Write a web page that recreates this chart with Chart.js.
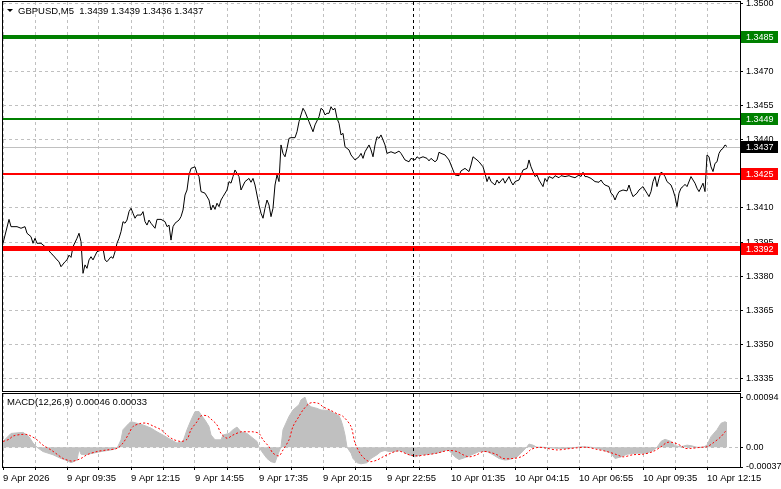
<!DOCTYPE html>
<html>
<head>
<meta charset="utf-8">
<title>GBPUSD,M5</title>
<script src="https://cdn.jsdelivr.net/npm/chart.js@4.4.1/dist/chart.umd.min.js"></script>
<style>
  html, body { margin: 0; padding: 0; background: #ffffff; }
  #wrap { position: relative; width: 781px; height: 489px; overflow: hidden; }
  #priceCanvas { position: absolute; left: 0; top: 0; }
  #macdCanvas { position: absolute; left: 0; top: 392px; }
</style>
</head>
<body>
<div id="wrap">
  <canvas id="priceCanvas" width="781" height="392"></canvas>
  <canvas id="macdCanvas" width="781" height="97"></canvas>
</div>
<script>
// =================================================================
// 1. DATA (bar index = M5 bar from the left)
// =================================================================

var priceBar = [
  0, 3, 4, 7, 9, 11, 12, 14, 15, 16,
  17, 19, 22, 24, 25, 27, 28, 29, 31, 32,
  33, 34, 35, 37, 38, 39, 40, 41, 42, 43,
  44, 45, 47, 49, 50, 51, 52, 54, 55, 56,
  57, 58, 59, 60, 61, 62, 63, 64, 65, 66,
  67, 69, 70, 71, 72, 73, 74, 76, 77, 79,
  81, 82, 83, 84, 85, 86, 88, 89, 90, 91,
  92, 93, 94, 96, 97, 98, 99, 101, 103, 104,
  105, 106, 107, 108, 109, 110, 112, 113, 114, 115,
  116, 117, 118, 119, 121, 123, 124, 125, 126, 127,
  128, 129, 130, 131, 132, 133, 134, 135, 136, 137,
  138, 139, 140, 141, 142, 143, 144, 146, 147, 148,
  149, 150, 151, 153, 154, 155, 156, 158, 159, 160,
  161, 162, 163, 164, 165, 166, 167, 168, 169, 170,
  171, 173, 174, 176, 178, 179, 180, 181, 183, 184,
  185, 186, 187, 188, 189, 190, 191, 192, 194, 196,
  198, 199, 201, 203, 204, 206, 207, 208, 210, 212,
  213, 214, 216, 217, 218, 219, 221, 223, 224, 225,
  226, 228, 229, 231, 233, 234, 235, 237, 238, 240,
  241, 242, 243, 244, 246, 247, 248, 250, 251, 253,
  254, 255, 256, 258, 259, 260, 262, 263, 264, 265,
  266, 267, 268, 270, 271, 272, 273, 275, 276, 278,
  279, 281, 283, 284, 286, 288, 289, 290, 291, 292,
  294, 296, 298, 299, 300, 301, 303, 304, 305, 306,
  307, 308, 310, 312, 313, 314, 315, 317, 318, 320,
  321, 322, 323, 324, 325, 326, 327, 328, 329, 330,
  331, 332, 334, 335, 336, 337, 338, 339, 340, 341,
  342, 344, 345, 346, 347, 348, 350, 351, 352, 353,
  354, 355, 356, 357, 358, 359, 360, 361, 362
];

var priceClose = [
  1.33945, 1.34050, 1.34018, 1.34018, 1.34011, 1.34018, 1.33989, 1.33974, 1.33945, 1.33967,
  1.33945, 1.33945, 1.33923, 1.33901, 1.33893, 1.33872, 1.33864, 1.33842, 1.33864, 1.33872,
  1.33893, 1.33883, 1.33930, 1.33967, 1.33989, 1.33952, 1.33813, 1.33850, 1.33835, 1.33872,
  1.33886, 1.33872, 1.33908, 1.33915, 1.33923, 1.33872, 1.33864, 1.33886, 1.33879, 1.33908,
  1.33945, 1.33967, 1.33996, 1.34040, 1.34033, 1.34047, 1.34084, 1.34099, 1.34077, 1.34055,
  1.34069, 1.34069, 1.34084, 1.34040, 1.34025, 1.34047, 1.34033, 1.34011, 1.34050, 1.34050,
  1.34040, 1.34018, 1.34025, 1.33959, 1.34018, 1.34033, 1.34047, 1.34062, 1.34091, 1.34157,
  1.34179, 1.34245, 1.34274, 1.34281, 1.34252, 1.34238, 1.34172, 1.34165, 1.34135, 1.34091,
  1.34113, 1.34094, 1.34121, 1.34106, 1.34135, 1.34150, 1.34179, 1.34216, 1.34209, 1.34238,
  1.34267, 1.34252, 1.34238, 1.34179, 1.34216, 1.34230, 1.34213, 1.34230, 1.34201, 1.34157,
  1.34113, 1.34077, 1.34055, 1.34099, 1.34135, 1.34113, 1.34062, 1.34099, 1.34201, 1.34245,
  1.34216, 1.34377, 1.34340, 1.34325, 1.34362, 1.34406, 1.34409, 1.34409, 1.34435, 1.34479,
  1.34509, 1.34538, 1.34523, 1.34479, 1.34457, 1.34435, 1.34465, 1.34501, 1.34538, 1.34531,
  1.34509, 1.34516, 1.34516, 1.34545, 1.34531, 1.34538, 1.34494, 1.34472, 1.34421, 1.34428,
  1.34369, 1.34355, 1.34333, 1.34311, 1.34325, 1.34340, 1.34318, 1.34347, 1.34377, 1.34355,
  1.34325, 1.34377, 1.34413, 1.34406, 1.34421, 1.34399, 1.34377, 1.34340, 1.34347, 1.34340,
  1.34350, 1.34340, 1.34311, 1.34303, 1.34318, 1.34311, 1.34325, 1.34318, 1.34325, 1.34318,
  1.34307, 1.34318, 1.34303, 1.34311, 1.34345, 1.34340, 1.34333, 1.34311, 1.34289, 1.34267,
  1.34245, 1.34242, 1.34263, 1.34274, 1.34260, 1.34289, 1.34325, 1.34311, 1.34303, 1.34281,
  1.34252, 1.34216, 1.34238, 1.34216, 1.34201, 1.34223, 1.34209, 1.34230, 1.34209, 1.34238,
  1.34216, 1.34201, 1.34216, 1.34223, 1.34245, 1.34267, 1.34274, 1.34311, 1.34281, 1.34260,
  1.34238, 1.34245, 1.34223, 1.34194, 1.34230, 1.34216, 1.34238, 1.34230, 1.34242, 1.34233,
  1.34242, 1.34238, 1.34242, 1.34238, 1.34233, 1.34245, 1.34238, 1.34257, 1.34238, 1.34238,
  1.34230, 1.34216, 1.34213, 1.34223, 1.34209, 1.34201, 1.34194, 1.34165, 1.34157, 1.34135,
  1.34157, 1.34172, 1.34179, 1.34175, 1.34201, 1.34172, 1.34150, 1.34165, 1.34179, 1.34194,
  1.34179, 1.34165, 1.34150, 1.34172, 1.34216, 1.34238, 1.34194, 1.34230, 1.34257, 1.34252,
  1.34238, 1.34216, 1.34201, 1.34179, 1.34150, 1.34106, 1.34165, 1.34187, 1.34194, 1.34204,
  1.34194, 1.34238, 1.34223, 1.34209, 1.34187, 1.34172, 1.34209, 1.34172, 1.34333, 1.34325,
  1.34281, 1.34260, 1.34296, 1.34303, 1.34340, 1.34355, 1.34362, 1.34377, 1.34370
];

// MACD(12,26,9) main line (grey histogram) and signal (red dotted)
var histBar = [
  0, 4, 10, 13, 15, 17, 20, 25, 29, 32,
  34, 37, 38, 39, 41, 45, 49, 54, 57, 59,
  60, 63, 64, 67, 70, 74, 77, 80, 84, 87,
  90, 92, 94, 96, 98, 99, 101, 103, 104, 106,
  109, 110, 113, 115, 117, 119, 122, 124, 127, 128,
  130, 132, 134, 136, 137, 139, 140, 143, 145, 148,
  149, 151, 152, 154, 157, 159, 163, 165, 168, 169,
  170, 171, 172, 174, 175, 177, 179, 182, 184, 187,
  189, 191, 193, 195, 199, 203, 206, 209, 213, 218,
  222, 223, 226, 228, 232, 235, 238, 242, 245, 248,
  251, 253, 257, 259, 262, 263, 265, 267, 270, 277,
  282, 287, 289, 294, 297, 300, 304, 306, 309, 312,
  317, 322, 325, 327, 329, 331, 334, 336, 339, 342,
  344, 347, 350, 352, 354, 357, 359, 361, 362
];

var histValue = [
  0.00011, 0.00026, 0.00028, 0.00020, 0.00008, 0, -0.00008, -0.00014, -0.00021, -0.00025,
  -0.00029, -0.00024, -0.00004, -0.00013, -0.00014, -0.00011, -0.00008, -0.00005, -0.00002, 0.00014,
  0.00033, 0.00045, 0.00048, 0.00045, 0.00042, 0.00036, 0.00029, 0.00023, 0.00014, 0.00008,
  0.00011, 0.00033, 0.00051, 0.00067, 0.00067, 0.00061, 0.00051, 0.00039, 0.00023, 0.00014,
  0.00014, 0.00023, 0.00026, 0.00033, 0.00038, 0.00029, 0.00026, 0.00020, 0.00011, 0,
  -0.00011, -0.00021, -0.00027, -0.00029, -0.00018, 0.00001, 0.00033, 0.00058, 0.00070, 0.00080,
  0.00089, 0.00094, 0.00083, 0.00076, 0.00073, 0.00070, 0.00069, 0.00065, 0.00059, 0.00051,
  0.00039, 0.00023, 0, -0.00011, -0.00021, -0.00029, -0.00031, -0.00029, -0.00021, -0.00014,
  -0.00008, -0.00006, -0.00008, -0.00008, -0.00006, -0.00014, -0.00018, -0.00014, -0.00013, -0.00010,
  -0.00005, -0.00006, -0.00018, -0.00023, -0.00018, -0.00013, -0.00008, -0.00008, -0.00014, -0.00021,
  -0.00024, -0.00023, -0.00018, -0.00011, 0.00001, 0.00006, 0.00004, 0, 0, -0.00002,
  -0.00002, 0, 0.00001, 0, -0.00002, -0.00005, -0.00011, -0.00021, -0.00018, -0.00013,
  -0.00011, -0.00011, -0.00006, 0, 0.00011, 0.00015, 0.00011, 0.00003, 0.00001, 0.00004,
  0.00003, 0, 0, 0.00004, 0.00020, 0.00033, 0.00045, 0.00048, 0.00046
];

var signalBar = [
  0, 3, 5, 9, 12, 14, 17, 20, 24, 27,
  30, 33, 35, 39, 42, 47, 52, 57, 60, 63,
  65, 69, 72, 75, 79, 82, 85, 89, 92, 94,
  97, 99, 102, 104, 107, 109, 112, 115, 119, 122,
  125, 128, 130, 133, 135, 138, 140, 143, 145, 148,
  150, 153, 155, 158, 160, 164, 167, 170, 174, 176,
  179, 182, 184, 187, 190, 194, 197, 199, 203, 207,
  212, 217, 220, 223, 227, 230, 233, 237, 240, 243,
  247, 250, 255, 259, 262, 264, 268, 272, 277, 282,
  287, 292, 297, 302, 307, 310, 315, 320, 325, 329,
  332, 335, 339, 341, 344, 349, 352, 355, 359, 361,
  362
];

var signalValue = [
  0.00011, 0.00015, 0.00021, 0.00024, 0.00024, 0.00021, 0.00014, 0.00004, -0.00005, -0.00013,
  -0.00021, -0.00025, -0.00026, -0.00021, -0.00014, -0.00008, -0.00005, -0.00002, 0.00008, 0.00026,
  0.00039, 0.00045, 0.00045, 0.00040, 0.00033, 0.00023, 0.00015, 0.00011, 0.00015, 0.00033,
  0.00048, 0.00059, 0.00059, 0.00053, 0.00042, 0.00026, 0.00017, 0.00023, 0.00029, 0.00029,
  0.00029, 0.00026, 0.00014, 0.00001, -0.00011, -0.00016, -0.00005, 0.00014, 0.00039, 0.00058,
  0.00070, 0.00082, 0.00084, 0.00082, 0.00076, 0.00069, 0.00063, 0.00058, 0.00039, 0.00008,
  -0.00014, -0.00025, -0.00027, -0.00024, -0.00018, -0.00011, -0.00007, -0.00008, -0.00014, -0.00016,
  -0.00014, -0.00011, -0.00008, -0.00006, -0.00008, -0.00014, -0.00018, -0.00014, -0.00008, -0.00009,
  -0.00014, -0.00021, -0.00021, -0.00018, -0.00011, -0.00004, 0, -0.00002, -0.00005, -0.00003,
  -0.00001, 0, -0.00004, -0.00008, -0.00014, -0.00018, -0.00014, -0.00013, -0.00008, 0.00001,
  0.00009, 0.00009, 0.00003, -0.00002, -0.00002, 0, 0.00001, 0.00008, 0.00020, 0.00029,
  0.00033
];

// axis ticks and labels
var priceTicks = [1.3335, 1.3350, 1.3365, 1.3380, 1.3395, 1.3410, 1.3425, 1.3440, 1.3455, 1.3470, 1.3485, 1.3500];
var macdTicks = [-0.00037, 0, 0.00094];
var timeLabels = ['9 Apr 2026', '9 Apr 09:35', '9 Apr 12:15', '9 Apr 14:55', '9 Apr 17:35', '9 Apr 20:15',
                  '9 Apr 22:55', '10 Apr 01:35', '10 Apr 04:15', '10 Apr 06:55', '10 Apr 09:35', '10 Apr 12:15'];

// horizontal levels drawn on the chart, plus the last bid
var levelValues = [1.3485, 1.3449, 1.3425, 1.3392];
var lastPrice = 1.3437;
var separatorBar = 205;
var titleText = 'GBPUSD,M5  1.3439 1.3439 1.3436 1.3437';
var macdText = 'MACD(12,26,9) 0.00046 0.00033';

// =================================================================
// 2. STYLE
// =================================================================

var FONT = '"Liberation Sans", Arial, sans-serif';
var FONT_SIZE = 9.5;
var AXIS_SIZE = 9;
var GRID = '#c0c0c0';
var levelStyles = [
  { color: '#008000', width: 4 },
  { color: '#008000', width: 2 },
  { color: '#ff0000', width: 2 },
  { color: '#ff0000', width: 5 }
];

Chart.defaults.font.family = FONT;
Chart.defaults.font.size = FONT_SIZE;
Chart.defaults.color = '#000000';
Chart.defaults.animation = false;

function toPoints(xs, ys) {
  return xs.map(function (x, i) { return { x: x, y: ys[i] }; });
}

// shared time axis: grid every 16 bars, label every 32 bars
function timeAxis(showLabels) {
  return {
    type: 'linear',
    min: 0,
    max: 368.5,
    afterBuildTicks: function (scale) {
      var t = [];
      for (var b = 0; b <= 352; b += 16) t.push({ value: b });
      scale.ticks = t;
    },
    grid: { color: GRID, drawTicks: showLabels, tickLength: 3, tickColor: '#000000' },
    border: { display: false, dash: [3, 3] },
    ticks: {
      display: showLabels,
      autoSkip: false,
      maxRotation: 0,
      minRotation: 0,
      align: 'start',
      padding: 3,
      callback: function (v) { return v % 32 === 0 ? timeLabels[v / 32] : ''; }
    },
    afterFit: function (scale) {
      scale.height = showLabels ? 22 : 0;
      scale.paddingLeft = 0;
      scale.paddingRight = 0;
    }
  };
}

// right-hand value axis, fixed width, no extra padding for the end labels
function valueAxis(min, max, tickValues, fmt, gridColor) {
  return {
    position: 'right',
    min: min,
    max: max,
    afterBuildTicks: function (scale) {
      scale.ticks = tickValues.map(function (v) { return { value: v }; });
    },
    grid: { color: gridColor, tickLength: 3, tickColor: '#000000' },
    border: { display: false, dash: [3, 3] },
    ticks: { padding: 3, font: { size: AXIS_SIZE }, callback: fmt },
    afterFit: function (scale) {
      scale.width = 41;
      scale.paddingTop = 0;
      scale.paddingBottom = 0;
    }
  };
}

// =================================================================
// 3. PLUGINS (frame, level lines, labels)
// =================================================================

var framePlugin = {
  id: 'frame',
  afterDatasetsDraw: function (chart) {
    var a = chart.chartArea, ctx = chart.ctx;
    // dashed separator at the start of 10 Apr
    var x = Math.round(chart.scales.x.getPixelForValue(separatorBar)) + 0.5;
    ctx.save();
    ctx.strokeStyle = '#000000';
    ctx.lineWidth = 1;
    ctx.setLineDash([3, 3]);
    ctx.beginPath();
    ctx.moveTo(x, a.top);
    ctx.lineTo(x, a.bottom);
    ctx.stroke();
    ctx.restore();
  },
  afterDraw: function (chart) {
    var a = chart.chartArea, ctx = chart.ctx;
    ctx.save();
    ctx.strokeStyle = '#000000';
    ctx.lineWidth = 1;
    ctx.strokeRect(a.left - 0.5, a.top - 0.5, a.right - a.left + 1, a.bottom - a.top + 1);
    ctx.restore();
  }
};

var levelPlugin = {
  id: 'levels',
  beforeDatasetsDraw: function (chart) {
    var a = chart.chartArea, ctx = chart.ctx;
    var y = Math.round(chart.scales.y.getPixelForValue(lastPrice)) + 0.5;
    ctx.save();
    ctx.strokeStyle = GRID;
    ctx.lineWidth = 1;
    ctx.beginPath();
    ctx.moveTo(a.left, y);
    ctx.lineTo(a.right, y);
    ctx.stroke();
    ctx.restore();
  },
  afterDatasetsDraw: function (chart) {
    var a = chart.chartArea, ctx = chart.ctx;
    ctx.save();
    levelValues.forEach(function (v, i) {
      var s = levelStyles[i];
      var y = chart.scales.y.getPixelForValue(v);
      ctx.fillStyle = s.color;
      ctx.fillRect(a.left, Math.round(y - s.width / 2), a.right - a.left, s.width);
    });
    ctx.restore();
  },
  afterDraw: function (chart) {
    var ctx = chart.ctx;
    var boxes = levelValues.map(function (v, i) { return { v: v, c: levelStyles[i].color }; });
    boxes.push({ v: lastPrice, c: '#000000' });
    ctx.save();
    ctx.font = AXIS_SIZE + 'px ' + FONT;
    ctx.textBaseline = 'middle';
    ctx.textAlign = 'left';
    boxes.forEach(function (b) {
      var y = Math.round(chart.scales.y.getPixelForValue(b.v));
      ctx.fillStyle = b.c;
      ctx.fillRect(741, y - 6, 37, 12);
      ctx.fillStyle = '#ffffff';
      ctx.fillText(b.v.toFixed(4), 746, y + 0.5);
    });
    // symbol caption, top left
    ctx.font = FONT_SIZE + 'px ' + FONT;
    ctx.fillStyle = '#000000';
    ctx.beginPath();
    ctx.moveTo(7, 9);
    ctx.lineTo(13, 9);
    ctx.lineTo(10, 12);
    ctx.closePath();
    ctx.fill();
    ctx.fillText(titleText, 18, 11);
    ctx.restore();
  }
};

var macdCaption = {
  id: 'macdCaption',
  afterDraw: function (chart) {
    var ctx = chart.ctx;
    ctx.save();
    ctx.font = FONT_SIZE + 'px ' + FONT;
    ctx.fillStyle = '#000000';
    ctx.textBaseline = 'middle';
    ctx.fillText(macdText, 7, 10);
    ctx.restore();
  }
};

// =================================================================
// 4. PRICE CHART
// =================================================================

new Chart(document.getElementById('priceCanvas'), {
  type: 'line',
  data: {
    datasets: [{
      data: toPoints(priceBar, priceClose),
      borderColor: '#000000',
      borderWidth: 1,
      pointRadius: 0,
      tension: 0,
      fill: false
    }]
  },
  options: {
    responsive: false,
    layout: { padding: { left: 3, top: 2, right: 0, bottom: 1 } },
    plugins: { legend: { display: false }, tooltip: { enabled: false } },
    scales: {
      x: timeAxis(false),
      y: valueAxis(1.33296, 1.35005, priceTicks,
        function (v) { return v.toFixed(4); }, GRID)
    }
  },
  plugins: [levelPlugin, framePlugin]
});

// =================================================================
// 5. MACD CHART
// =================================================================

new Chart(document.getElementById('macdCanvas'), {
  type: 'line',
  data: {
    datasets: [{
      data: toPoints(signalBar, signalValue),
      borderColor: '#ff0000',
      borderWidth: 1,
      borderDash: [2, 2],
      pointRadius: 0,
      tension: 0.3,
      fill: false
    }, {
      data: toPoints(histBar, histValue),
      borderColor: '#c0c0c0',
      borderWidth: 1,
      backgroundColor: '#c0c0c0',
      pointRadius: 0,
      tension: 0,
      fill: 'origin'
    }]
  },
  options: {
    responsive: false,
    layout: { padding: { left: 3, top: 2, right: 0, bottom: 0 } },
    plugins: { legend: { display: false }, tooltip: { enabled: false } },
    scales: {
      x: timeAxis(true),
      y: valueAxis(-0.00037, 0.001, macdTicks,
        function (v) { return v === 0 ? '0.00' : v.toFixed(5); },
        function (c) { return c.tick && c.tick.value === 0 ? GRID : 'rgba(0,0,0,0)'; })
    }
  },
  plugins: [macdCaption, framePlugin]
});
</script>
</body>
</html>
